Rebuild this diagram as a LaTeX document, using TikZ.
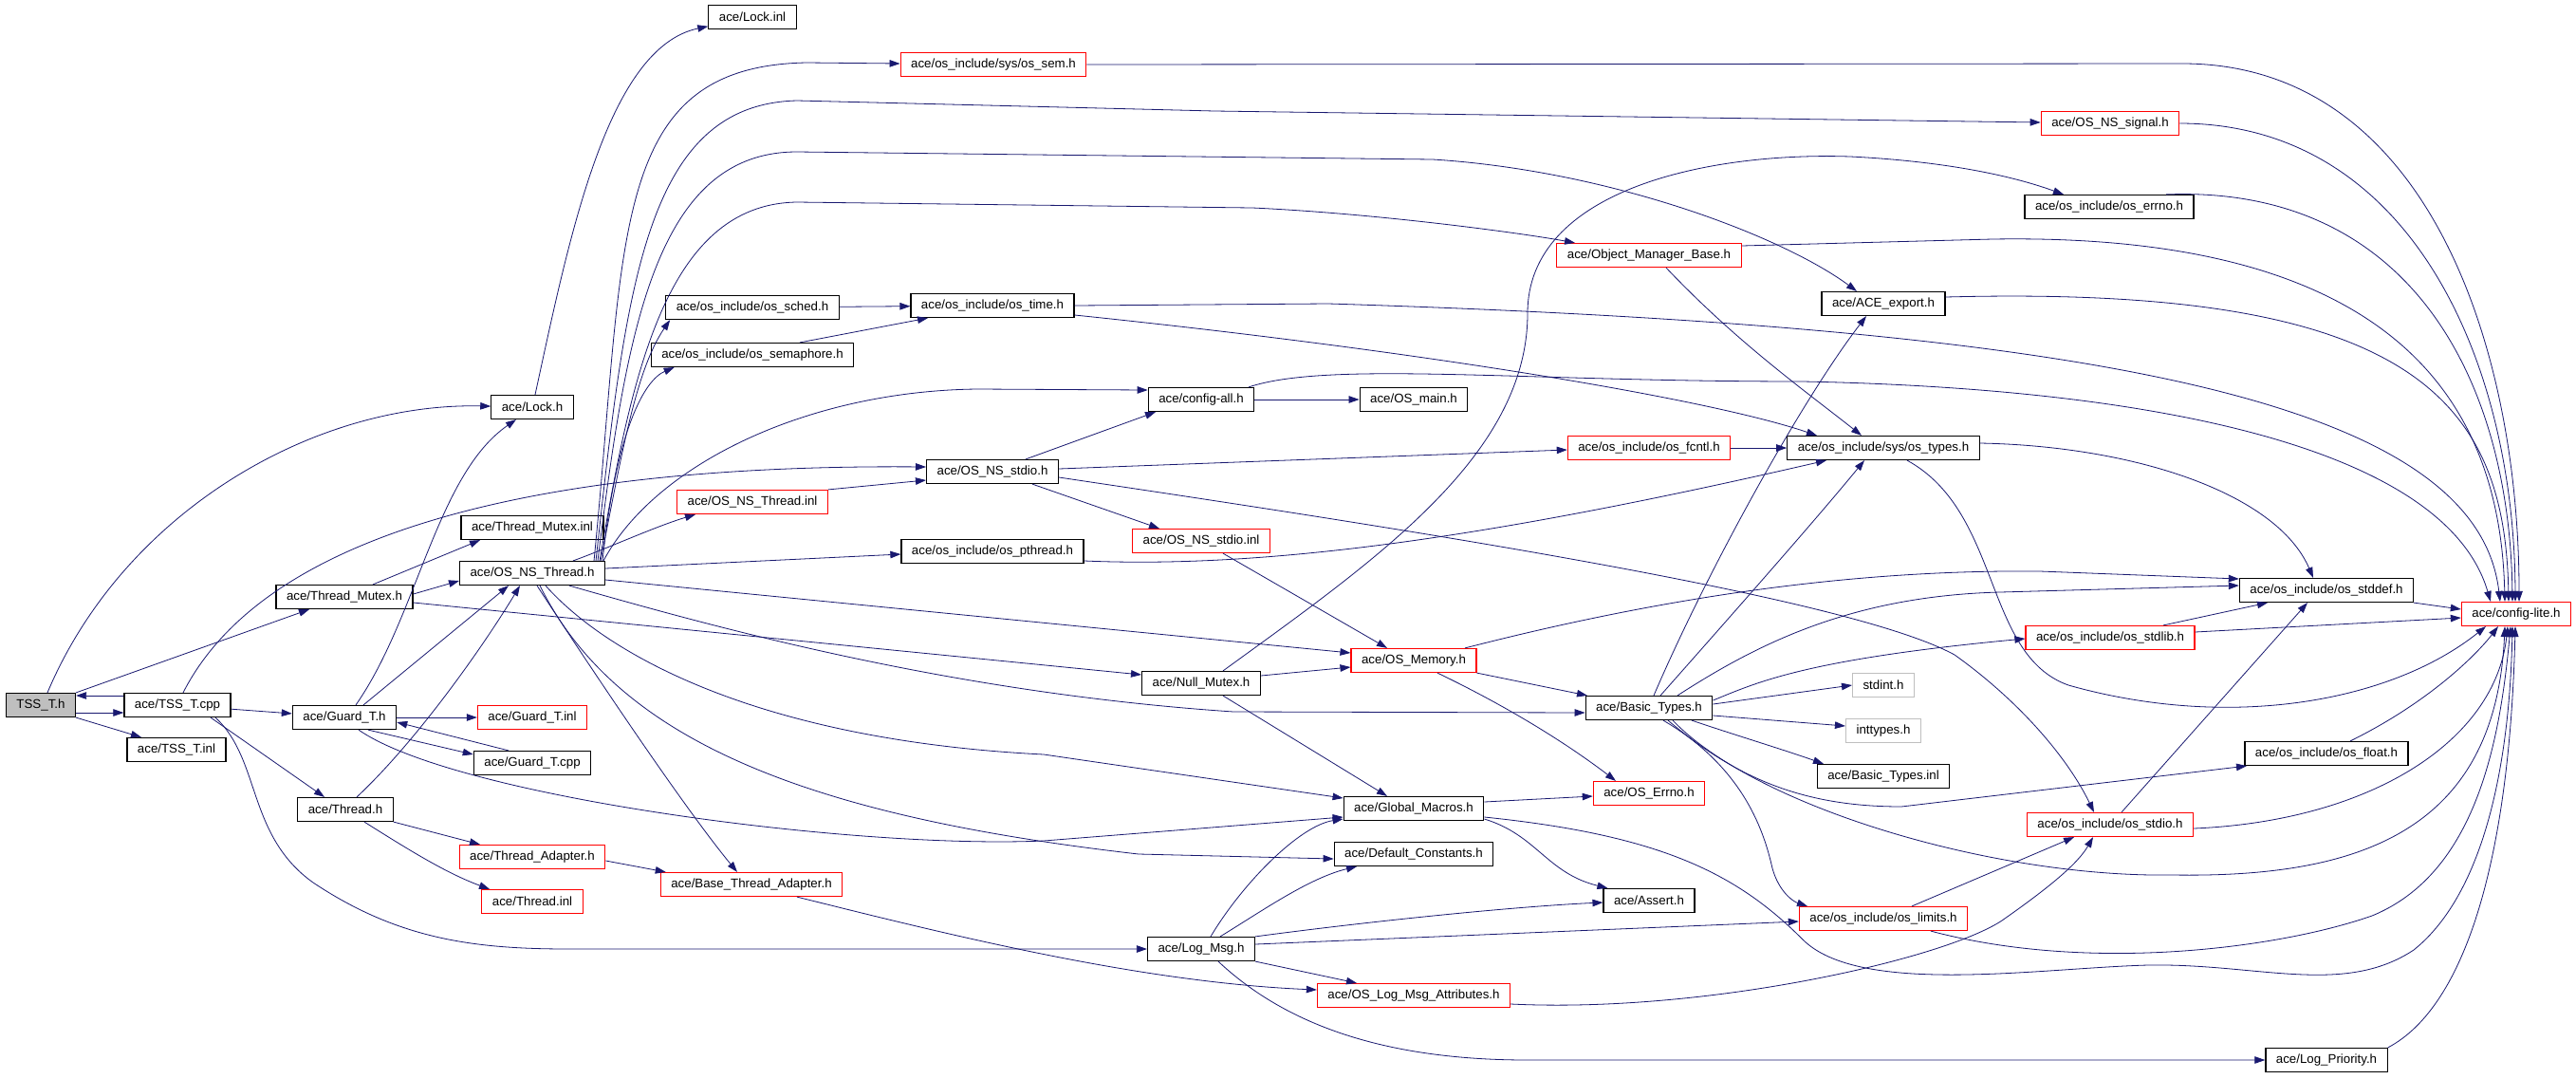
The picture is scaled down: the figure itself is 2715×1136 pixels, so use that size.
\documentclass[tikz,border=0pt]{standalone}
\usepackage{fontspec}
\setmainfont{Liberation Sans}
\usetikzlibrary{arrows.meta}
\definecolor{depblue}{RGB}{25,25,112}
\definecolor{nodegray}{RGB}{191,191,191}
\tikzset{
  filebox/.style={draw=black, line width=1.2pt, minimum height=25pt, inner xsep=11pt, inner ysep=0pt, font=\fontsize{13.3}{15}\selectfont},
  redbox/.style={filebox, draw=red},
  sysbox/.style={filebox, draw=nodegray},
  mainbox/.style={filebox, fill=nodegray},
  dep/.style={draw=depblue, line width=0.8pt, -{Triangle[length=11pt,width=7.5pt]}}
}

\begin{document}
\begin{tikzpicture}[x=1pt, y=-1pt]
		%%%%% START %%%%%
		\useasboundingbox[fill=white] (0,0) rectangle (2715,1136);
		
		% files
		\node[mainbox] (tssh) at (43,743) {TSS\_T.h};
		\node[filebox] (tsscpp) at (187,743) {ace/TSS\_T.cpp};
		\node[filebox] (tssinl) at (186,790) {ace/TSS\_T.inl};
		\node[filebox] (thmutexh) at (363,629) {ace/Thread\_Mutex.h};
		\node[filebox] (guardh) at (363,756) {ace/Guard\_T.h};
		\node[filebox] (threadh) at (364,853) {ace/Thread.h};
		\node[filebox] (lockh) at (561,429) {ace/Lock.h};
		\node[filebox] (thmutexinl) at (561,556) {ace/Thread\_Mutex.inl};
		\node[filebox] (osnsthreadh) at (561,604) {ace/OS\_NS\_Thread.h};
		\node[redbox] (guardinl) at (561,756) {ace/Guard\_T.inl};
		\node[filebox] (guardcpp) at (561,804) {ace/Guard\_T.cpp};
		\node[redbox] (thadapter) at (561,903) {ace/Thread\_Adapter.h};
		\node[redbox] (threadinl) at (561,950) {ace/Thread.inl};
		\node[filebox] (lockinl) at (793,18) {ace/Lock.inl};
		\node[filebox] (ossched) at (793,324) {ace/os\_include/os\_sched.h};
		\node[filebox] (ossemaphore) at (793,374) {ace/os\_include/os\_semaphore.h};
		\node[redbox] (osnsthreadinl) at (793,529) {ace/OS\_NS\_Thread.inl};
		\node[redbox] (basethadapter) at (792,932) {ace/Base\_Thread\_Adapter.h};
		\node[redbox] (ossem) at (1047,68) {ace/os\_include/sys/os\_sem.h};
		\node[filebox] (ostime) at (1046,322) {ace/os\_include/os\_time.h};
		\node[filebox] (osnsstdioh) at (1046,497) {ace/OS\_NS\_stdio.h};
		\node[filebox] (ospthread) at (1046,581) {ace/os\_include/os\_pthread.h};
		\node[filebox] (configall) at (1266,421) {ace/config-all.h};
		\node[redbox] (osnsstdioinl) at (1266,570) {ace/OS\_NS\_stdio.inl};
		\node[filebox] (nullmutex) at (1266,720) {ace/Null\_Mutex.h};
		\node[filebox] (logmsg) at (1266,1000) {ace/Log\_Msg.h};
		\node[filebox] (osmain) at (1490,421) {ace/OS\_main.h};
		\node[redbox] (osmemory) at (1490,696) {ace/OS\_Memory.h};
		\node[filebox] (globalmacros) at (1490,852) {ace/Global\_Macros.h};
		\node[filebox] (defconst) at (1490,900) {ace/Default\_Constants.h};
		\node[redbox] (oslogmsgattr) at (1490,1049) {ace/OS\_Log\_Msg\_Attributes.h};
		\node[redbox] (objmgrbase) at (1738,269) {ace/Object\_Manager\_Base.h};
		\node[redbox] (osfcntl) at (1738,472) {ace/os\_include/os\_fcntl.h};
		\node[filebox] (basictypes) at (1738,746) {ace/Basic\_Types.h};
		\node[redbox] (aceoserrno) at (1738,836) {ace/OS\_Errno.h};
		\node[filebox] (asserth) at (1738,949) {ace/Assert.h};
		\node[filebox] (aceexport) at (1985,320) {ace/ACE\_export.h};
		\node[filebox] (ostypes) at (1985,472) {ace/os\_include/sys/os\_types.h};
		\node[sysbox] (stdint) at (1985,722) {stdint.h};
		\node[sysbox] (inttypes) at (1985,770) {inttypes.h};
		\node[filebox] (basictypesinl) at (1985,818) {ace/Basic\_Types.inl};
		\node[redbox] (oslimits) at (1985,968) {ace/os\_include/os\_limits.h};
		\node[redbox] (osnssignal) at (2224,130) {ace/OS\_NS\_signal.h};
		\node[filebox] (oserrno) at (2223,218) {ace/os\_include/os\_errno.h};
		\node[redbox] (osstdlib) at (2224,672) {ace/os\_include/os\_stdlib.h};
		\node[redbox] (osstdio) at (2224,869) {ace/os\_include/os\_stdio.h};
		\node[filebox] (osstddef) at (2452,622) {ace/os\_include/os\_stddef.h};
		\node[filebox] (osfloat) at (2452,794) {ace/os\_include/os\_float.h};
		\node[filebox] (logpriority) at (2452,1117) {ace/Log\_Priority.h};
		\node[redbox] (configlite) at (2652,647) {ace/config-lite.h};
		
		% TSS_T.h and TSS_T.cpp
		\draw[dep] ([xshift=7pt]tssh.north) .. controls (130,540) and (330,424) .. (lockh);
		\draw[dep] ([yshift=10pt]tsscpp.west) -- ([yshift=10pt]tssh.east);
		\draw[dep] ([yshift=-8pt]tssh.east) -- ([yshift=-8pt]tsscpp.west);
		\draw[dep] (tssh.south east) -- ([xshift=-37pt]tssinl.north);
		\draw[dep] (tssh.north east) -- ([xshift=-37pt]thmutexh.south);
		\draw[dep] ([xshift=6pt]tsscpp.north) .. controls (300,520) and (700,490) .. ([yshift=5pt]osnsstdioh.west);
		\draw[dep] (tsscpp) -- (guardh);
		\draw[dep] ([xshift=35pt]tsscpp.south) -- ([xshift=-22pt]threadh.north);
		\draw[dep] ([xshift=40pt]tsscpp.south) .. controls (275,800) and (260,880) .. (330,930) .. controls (420,990) and (500,1000) .. (600,1000) -- (logmsg);
		
		% Thread_Mutex.h, Guard_T.h, Thread.h
		\draw[dep] ([xshift=30pt]thmutexh.north) -- ([xshift=-55pt]thmutexinl.south);
		\draw[dep] ([yshift=3pt]thmutexh.east) -- ([yshift=-8pt]osnsthreadh.west);
		\draw[dep] ([yshift=-6pt]thmutexh.east) -- ([yshift=9pt]nullmutex.west);
		\draw[dep] ([xshift=12pt]guardh.north) .. controls (440,650) and (460,500) .. ([xshift=-17pt]lockh.south);
		\draw[dep] ([xshift=20pt]guardh.north) -- ([xshift=-25pt]osnsthreadh.south);
		\draw[dep] (guardh) -- (guardinl);
		\draw[dep] ([xshift=25pt]guardh.south) -- ([yshift=9pt]guardcpp.west);
		\draw[dep] ([xshift=-25pt]guardcpp.north) -- ([yshift=-5pt]guardh.east);
		\draw[dep] ([xshift=15pt]guardh.south) .. controls (480,840) and (900,895) .. (1100,886) -- ([yshift=-9pt]globalmacros.west);
		\draw[dep] ([xshift=12pt]threadh.north) .. controls (440,780) and (510,680) .. ([xshift=-13pt]osnsthreadh.south);
		\draw[dep] (threadh.south east) -- ([xshift=-55pt]thadapter.north);
		\draw[dep] ([xshift=20pt]threadh.south) .. controls (430,895) and (470,920) .. ([xshift=-45pt]threadinl.north);
		\draw[dep] ([yshift=-4pt]thadapter.east) -- ([xshift=6pt]basethadapter.north west);
		\draw[dep] ([xshift=48pt]basethadapter.south) .. controls (1000,985) and (1200,1035) .. ([yshift=6pt]oslogmsgattr.west);
		\draw[dep] ([xshift=3pt]lockh.north) .. controls (600,250) and (640,50) .. (lockinl);
		
		% OS_NS_Thread.h
		\draw[dep] ([xshift=-5pt]osnsthreadh.north east) .. controls (655,480) and (670,390) .. ([xshift=5pt]ossched.south west);
		\draw[dep] ([xshift=-3pt]osnsthreadh.north east) .. controls (650,450) and (680,400) .. ([xshift=25pt]ossemaphore.south west);
		\draw[dep] ([xshift=-12pt]osnsthreadh.north east) .. controls (660,250) and (640,70) .. (850,66) -- (ossem);
		\draw[dep] ([xshift=-10pt]osnsthreadh.north east) .. controls (660,300) and (680,110) .. (840,106) -- (1280,117) -- (osnssignal);
		\draw[dep] ([xshift=-8pt]osnsthreadh.north east) .. controls (660,350) and (690,160) .. (840,160) -- (1510,168) .. controls (1700,180) and (1880,250) .. ([xshift=-28pt]aceexport.north);
		\draw[dep] ([xshift=-6pt]osnsthreadh.north east) .. controls (665,400) and (700,215) .. (840,213) -- (1320,219) .. controls (1450,225) and (1600,245) .. ([xshift=-78pt]objmgrbase.north);
		\draw[dep] ([xshift=-2pt]osnsthreadh.north east) .. controls (690,490) and (850,412) .. (1030,410) -- ([yshift=10pt]configall.west);
		\draw[dep] ([xshift=43pt]osnsthreadh.north) .. controls (640,578) and (690,555) .. ([xshift=-60pt]osnsthreadinl.south);
		\draw[dep] ([yshift=5pt]osnsthreadh.east) -- ([yshift=-3pt]ospthread.west);
		\draw[dep] ([yshift=-7pt]osnsthreadh.east) -- ([yshift=8pt]osmemory.west);
		\draw[dep] ([xshift=39pt]osnsthreadh.south) .. controls (750,660) and (1000,730) .. (1300,750) -- ([yshift=-5pt]basictypes.west);
		\draw[dep] ([xshift=14pt]osnsthreadh.south) .. controls (640,690) and (800,780) .. (1100,795) -- ([yshift=11pt]globalmacros.west);
		\draw[dep] ([xshift=8pt]osnsthreadh.south) .. controls (650,780) and (850,860) .. (1200,900) -- ([yshift=-5pt]defconst.west);
		\draw[dep] ([xshift=5pt]osnsthreadh.south) .. controls (620,700) and (720,850) .. ([xshift=-15pt]basethadapter.north);
		
		% os_time.h and its callers
		\draw[dep] (ossched) -- (ostime);
		\draw[dep] ([xshift=50pt]ossemaphore.north) -- ([xshift=-68pt]ostime.south);
		\draw[dep] ([yshift=-10pt]ostime.east) .. controls (1500,370) and (1800,420) .. ([xshift=-70pt]ostypes.north);
		
		% OS_NS_stdio.h and friends
		\draw[dep] ([xshift=35pt]osnsstdioh.north) -- ([xshift=-48pt]configall.south);
		\draw[dep] ([yshift=3pt]osnsstdioh.east) -- ([yshift=-2pt]osfcntl.west);
		\draw[dep] ([xshift=42pt]osnsstdioh.south) -- ([xshift=-44pt]osnsstdioinl.north);
		\draw[dep] ([yshift=-6pt]osnsstdioh.east) .. controls (1500,560) and (1950,630) .. (2060,690) .. controls (2130,740) and (2180,800) .. ([xshift=-17pt]osstdio.north);
		\draw[dep] (osnsthreadinl.north east) -- ([yshift=-9pt]osnsstdioh.west);
		\draw[dep] ([xshift=23pt]osnsstdioinl.south) -- ([xshift=-28pt]osmemory.north);
		\draw[dep] ([yshift=-10pt]ospthread.east) .. controls (1350,600) and (1600,560) .. ([xshift=-60pt]ostypes.south);
		\draw[dep] (configall) -- (osmain);
		\draw[dep] (osfcntl) -- (ostypes);
		\draw[dep] ([xshift=18pt]objmgrbase.south) .. controls (1830,360) and (1900,410) .. ([xshift=-23pt]ostypes.north);
		
		% Null_Mutex.h, OS_Memory.h, Global_Macros.h
		\draw[dep] ([yshift=8pt]nullmutex.east) -- ([yshift=-7pt]osmemory.west);
		\draw[dep] ([xshift=23pt]nullmutex.south) -- ([xshift=-28pt]globalmacros.north);
		\draw[dep] ([xshift=23pt]nullmutex.north) .. controls (1450,590) and (1610,480) .. (1610,330) .. controls (1610,200) and (1800,160) .. (1950,165) .. controls (2050,170) and (2120,185) .. ([xshift=-48pt]oserrno.north);
		\draw[dep] (osmemory.south east) -- ([xshift=-65pt]basictypes.north);
		\draw[dep] ([xshift=25pt]osmemory.south) .. controls (1600,750) and (1660,790) .. ([xshift=-35pt]aceoserrno.north);
		\draw[dep] ([xshift=54pt]osmemory.north) .. controls (1750,630) and (1950,600) .. (2150,602) -- ([yshift=12pt]osstddef.west);
		\draw[dep] ([yshift=7pt]globalmacros.east) -- ([yshift=-3pt]aceoserrno.west);
		\draw[dep] ([yshift=-11pt]globalmacros.east) .. controls (1620,880) and (1630,920) .. ([xshift=5pt]asserth.north west);
		
		% Log_Msg.h
		\draw[dep] ([xshift=10pt]logmsg.north) .. controls (1310,930) and (1370,870) .. ([yshift=-11pt]globalmacros.west);
		\draw[dep] ([xshift=20pt]logmsg.north) .. controls (1330,960) and (1380,925) .. ([xshift=-60pt]defconst.south);
		\draw[dep] (logmsg.north east) .. controls (1450,970) and (1600,955) .. ([yshift=-2pt]asserth.west);
		\draw[dep] ([yshift=5pt]logmsg.east) -- ([yshift=-3pt]oslimits.west);
		\draw[dep] (logmsg.south east) -- ([xshift=-60pt]oslogmsgattr.north);
		\draw[dep] ([xshift=18pt]logmsg.south) .. controls (1350,1075) and (1450,1117) .. (1610,1117) -- (logpriority);
		\draw[dep] ([yshift=-9pt]oslogmsgattr.east) .. controls (1800,1068) and (2050,1010) .. (2110,970) .. controls (2160,935) and (2190,910) .. ([xshift=-18pt]osstdio.south);
		
		% Basic_Types.h
		\draw[dep] ([xshift=5pt]basictypes.north) .. controls (1800,600) and (1900,420) .. ([xshift=-18pt]aceexport.south);
		\draw[dep] ([xshift=12pt]basictypes.north) .. controls (1850,620) and (1920,540) .. ([xshift=-20pt]ostypes.south);
		\draw[dep] ([xshift=30pt]basictypes.north) .. controls (1850,680) and (1950,628) .. (2108,624) -- ([yshift=5pt]osstddef.west);
		\draw[dep] ([yshift=8pt]basictypes.east) .. controls (1850,720) and (1900,695) .. ([yshift=-1pt]osstdlib.west);
		\draw[dep] ([yshift=4pt]basictypes.east) -- (stdint.west);
		\draw[dep] ([yshift=-8pt]basictypes.east) -- ([yshift=5pt]inttypes.west);
		\draw[dep] ([xshift=45pt]basictypes.south) .. controls (1830,775) and (1880,790) .. ([xshift=-63pt]basictypesinl.north);
		\draw[dep] ([xshift=20pt]basictypes.south) .. controls (1830,820) and (1900,850) .. (2004,850) -- ([xshift=-84pt]osfloat.south);
		\draw[dep] ([xshift=15pt]basictypes.south) .. controls (1840,810) and (1860,880) .. (1868,915) .. controls (1875,940) and (1890,950) .. ([xshift=-80pt]oslimits.north);
		
		% os_include headers
		\draw[dep] ([xshift=30pt]oslimits.north) -- ([xshift=-38pt]osstdio.south);
		\draw[dep] ([yshift=5pt]ostypes.east) .. controls (2250,470) and (2400,520) .. ([xshift=-14pt]osstddef.north);
		\draw[dep] ([xshift=12pt]osstdio.north) -- ([xshift=-20pt]osstddef.south);
		\draw[dep] ([xshift=56pt]osstdlib.north) -- ([xshift=-62pt]osstddef.south);
		
		% into config-lite.h, from above
		\draw[dep] (ossem.east) -- (2300,67) .. controls (2560,67) and (2655,370) .. ([xshift=3pt]configlite.north);
		\draw[dep] (osnssignal.east) .. controls (2540,130) and (2650,380) .. ([xshift=-1pt]configlite.north);
		\draw[dep] ([xshift=60pt]oserrno.north) .. controls (2540,195) and (2645,400) .. ([xshift=-4pt]configlite.north);
		\draw[dep] ([yshift=7pt]aceexport.east) .. controls (2540,300) and (2640,420) .. ([xshift=-8pt]configlite.north);
		\draw[dep] ([yshift=10pt]objmgrbase.east) -- (2100,252) .. controls (2520,245) and (2635,420) .. ([xshift=-12pt]configlite.north);
		\draw[dep] (ostime.east) -- (1400,320) .. controls (2200,345) and (2610,420) .. ([xshift=-17pt]configlite.north);
		\draw[dep] ([xshift=50pt]configall.north) .. controls (1400,380) and (1600,402) .. (1900,402) .. controls (2300,410) and (2580,480) .. ([xshift=-27pt]configlite.north);
		
		% into config-lite.h, from the side and below
		\draw[dep] (osstddef.south east) -- ([yshift=5pt]configlite.west);
		\draw[dep] ([yshift=6pt]osstdlib.east) -- ([yshift=-4pt]configlite.west);
		\draw[dep] ([xshift=25pt]ostypes.south) .. controls (2110,540) and (2090,690) .. (2180,722) .. controls (2350,770) and (2520,740) .. ([xshift=-32pt]configlite.south);
		\draw[dep] ([xshift=25pt]osfloat.north) .. controls (2560,740) and (2610,690) .. ([xshift=-19pt]configlite.south);
		\draw[dep] ([yshift=-4pt]osstdio.east) .. controls (2500,865) and (2630,780) .. ([xshift=-9pt]configlite.south);
		\draw[dep] ([xshift=25pt]basictypes.south) .. controls (1850,850) and (2100,925) .. (2290,922) .. controls (2480,925) and (2630,880) .. ([xshift=-12pt]configlite.south);
		\draw[dep] ([yshift=-9pt]globalmacros.east) .. controls (1750,880) and (1830,920) .. (1900,990) .. controls (1960,1050) and (2150,1020) .. (2264,1017) .. controls (2380,1015) and (2470,1050) .. (2544,1001) .. controls (2620,940) and (2645,800) .. ([xshift=-4pt]configlite.south);
		\draw[dep] ([xshift=50pt]oslimits.south) .. controls (2200,1025) and (2400,1000) .. (2500,965) .. controls (2610,920) and (2635,780) .. ([xshift=-6pt]configlite.south);
		\draw[dep] (logpriority.north east) .. controls (2600,1060) and (2645,900) .. ([xshift=-1pt]configlite.south);
		
		%%%%% END %%%%%
\end{tikzpicture}
\end{document}
